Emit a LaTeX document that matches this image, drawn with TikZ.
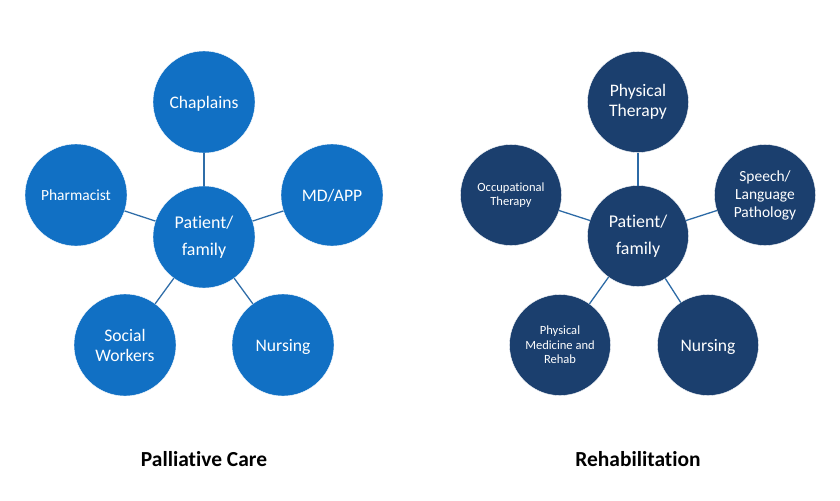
\documentclass[tikz,border=0pt]{standalone}
\usepackage{fontspec}
\setmainfont{Carlito}[Ligatures=NoCommon]
\definecolor{palblue}{HTML}{1170C4}
\definecolor{palline}{HTML}{2F6DA8}
\definecolor{rehabblue}{HTML}{1B3F6E}
\definecolor{rehabline}{HTML}{2C6AA6}
\tikzset{
  bub/.style={circle,draw=white,line width=0.3pt,inner sep=0pt,outer sep=0pt,
    align=center,text=white},
  palbub/.style={bub,fill=palblue,minimum size=3.06cm},
  rehabbub/.style={bub,fill=rehabblue,minimum size=3.03cm},
  oneline/.style={text depth=0pt},
  big/.style={font=\fontsize{15}{17}\selectfont},
  mid/.style={font=\fontsize{13.2}{15.4}\selectfont},
  small/.style={font=\fontsize{10.7}{12.3}\selectfont},
  hub/.style={font=\fontsize{15.3}{23}\selectfont},
  title/.style={font=\fontsize{18.3}{20}\selectfont\bfseries,text=black},
  palcon/.style={palline,line width=1.1pt},
  rehabcon/.style={rehabline,line width=1.1pt}
}
\begin{document}
\begin{tikzpicture}[x=0.03cm,y=-0.03cm]
    \useasboundingbox (0,0) rectangle (840,500);
    % left group
    \node[palbub,hub] (palhub) at (204,237) {Patient/\\family};
    \node[palbub,big,oneline] (chaplains) at (204,102) {Chaplains};
    \node[palbub,big,oneline] (mdapp) at (332,195) {MD/APP};
    \node[palbub,mid] (pharmacist) at (76,195) {Pharmacist};
    \node[palbub,big] (social) at (125,345) {Social\\Workers};
    \node[palbub,big,oneline] (palnursing) at (283,345) {Nursing};
    \draw[palcon] (palhub) -- (chaplains);
    \draw[palcon] (palhub) -- (mdapp);
    \draw[palcon] (palhub) -- (pharmacist);
    \draw[palcon] (palhub) -- (social);
    \draw[palcon] (palhub) -- (palnursing);
    % right group
    \node[rehabbub,hub] (rehabhub) at (638,236) {Patient/\\family};
    \node[rehabbub,big] (physical) at (638,102) {Physical\\Therapy};
    \node[rehabbub,mid] (speech) at (765,195) {Speech/\\Language\\Pathology};
    \node[rehabbub,small] (occupational) at (511,195) {Occupational\\Therapy};
    \node[rehabbub,small] (medicine) at (560,345) {Physical\\Medicine and\\Rehab};
    \node[rehabbub,big,oneline] (rehabnursing) at (708,345) {Nursing};
    \draw[rehabcon] (rehabhub) -- (physical);
    \draw[rehabcon] (rehabhub) -- (speech);
    \draw[rehabcon] (rehabhub) -- (occupational);
    \draw[rehabcon] (rehabhub) -- (medicine);
    \draw[rehabcon] (rehabhub) -- (rehabnursing);
    % captions
    \node[title] (palcap) at (204,459) {Palliative Care};
    \node[title] (rehabcap) at (638,459) {Rehabilitation};
\end{tikzpicture}
\end{document}
